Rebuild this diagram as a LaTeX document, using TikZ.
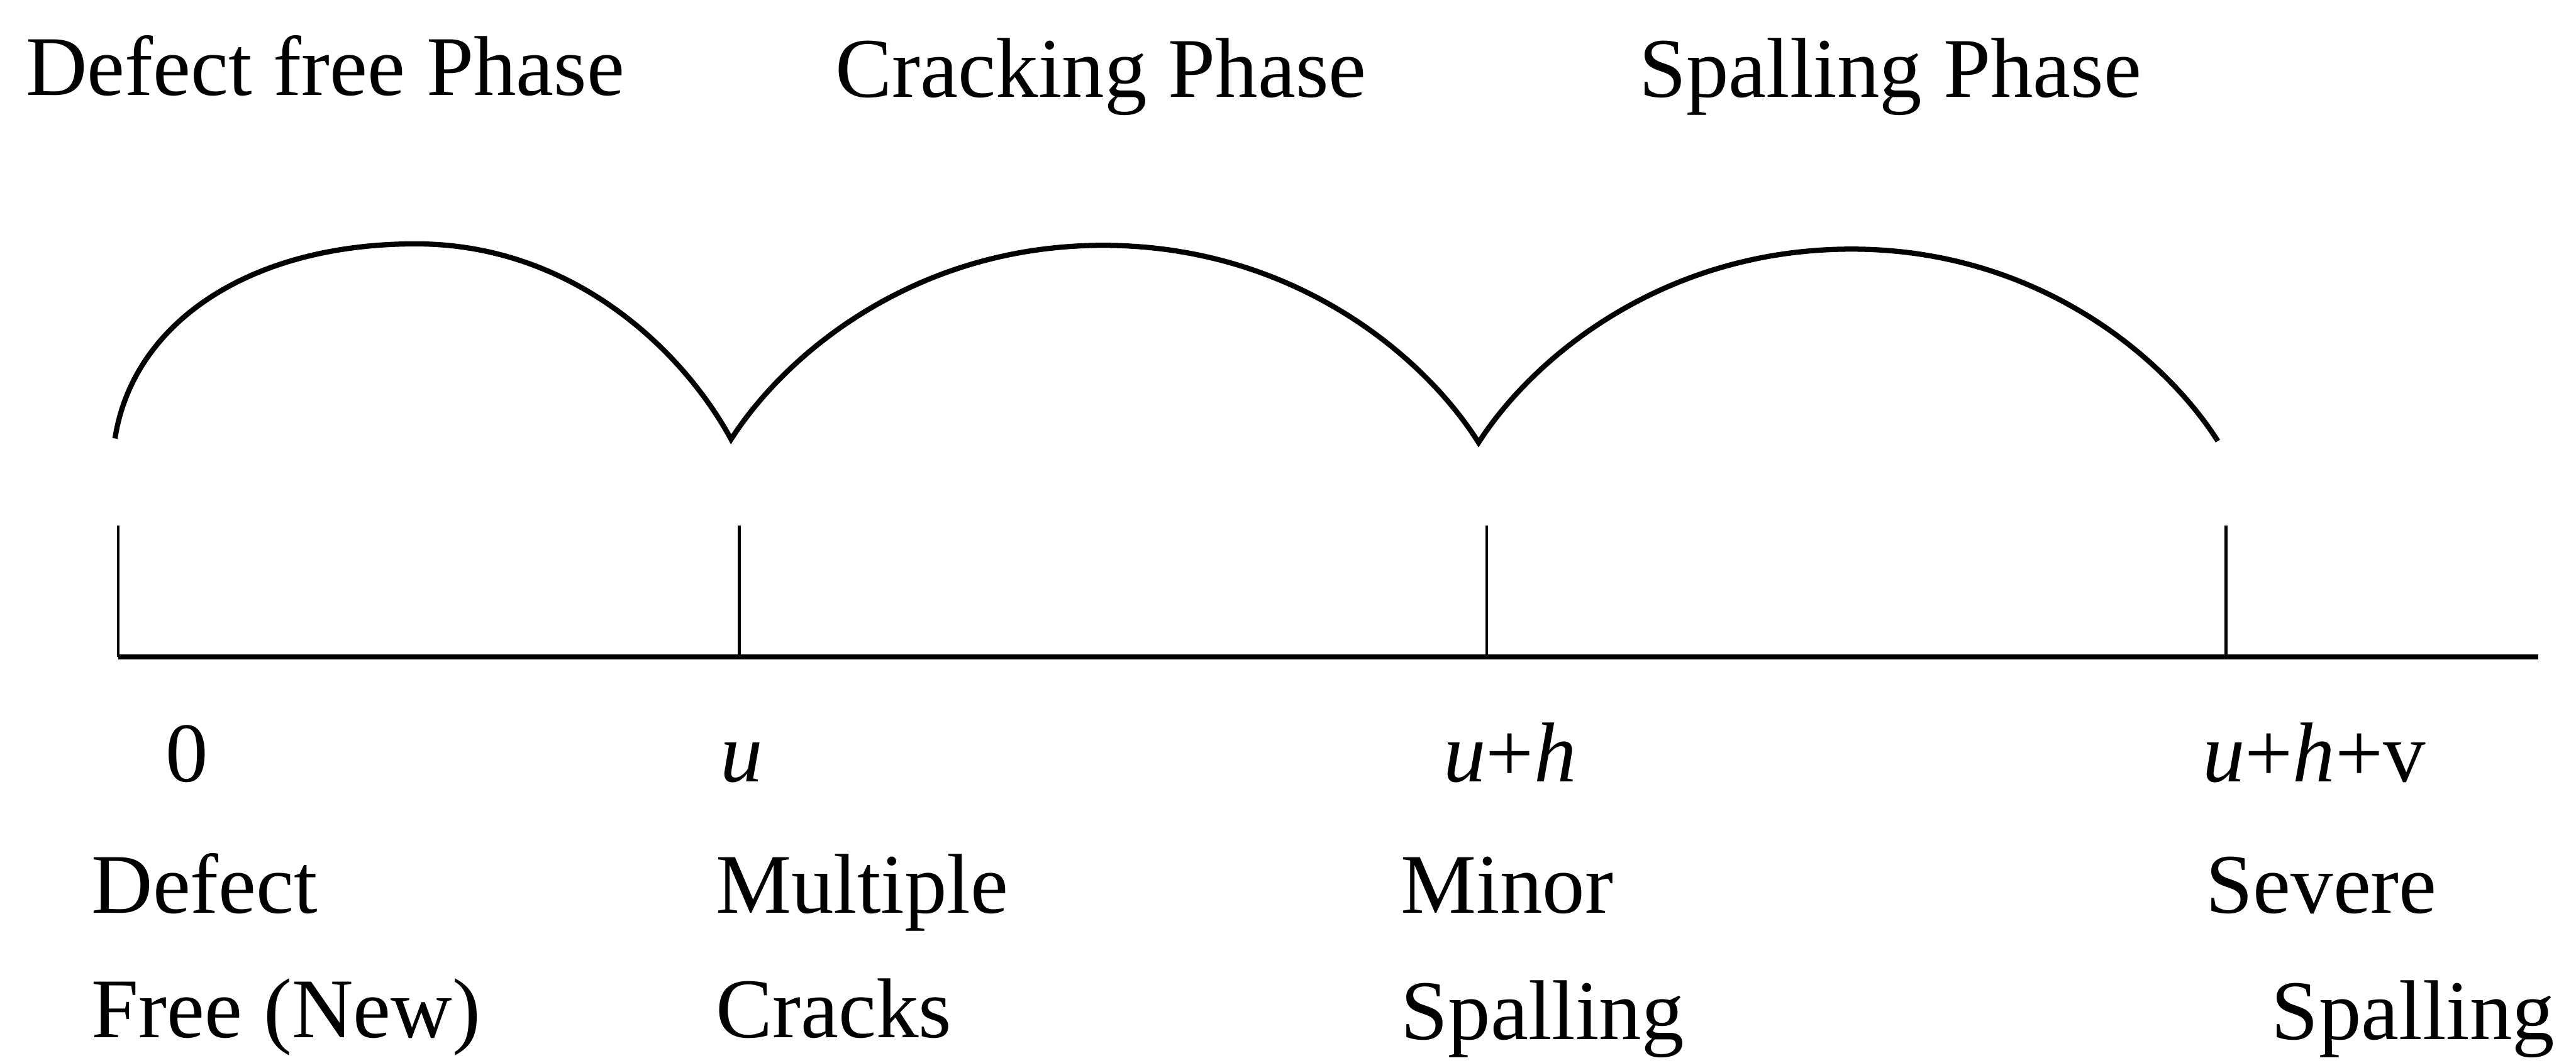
\documentclass[tikz,border=0pt]{standalone}
\usepackage{fontspec}
\setmainfont{Liberation Serif}
\begin{document}
\begin{tikzpicture}[x=0.01cm,y=0.01cm,
        lbl/.style={anchor=base west,inner sep=0pt,font=\fontsize{14.7}{17}\selectfont}]
    \useasboundingbox (0,0) rectangle (1568,647);
    % phase names
    \node[lbl] (pdefect) at (15,589) {Defect free Phase};
    \node[lbl] (pcrack) at (508,588) {Cracking Phase};
    \node[lbl] (pspall) at (997,588) {Spalling Phase};
    % arches
    \draw[line width=0.9pt]
        (70,380) .. controls (81,451) and (152.5,498.5) .. (253,498.5)
        .. controls (349,498.5) and (416,433) .. (445,379.5)
        .. controls (479,432.6) and (558,497.6) .. (671.5,497.6)
        .. controls (786,497.6) and (866,431.5) .. (900,377.5)
        .. controls (934,430.5) and (1013.5,495.3) .. (1127,495.3)
        .. controls (1238.5,495.3) and (1316.5,431) .. (1350,378.4);
    % time axis
    \coordinate (t0) at (72,247);
    \coordinate (t1) at (450,247);
    \coordinate (t2) at (905,247);
    \coordinate (t3) at (1355,247);
    \coordinate (tend) at (1545,247);
    \foreach \t in {t0,t1,t2,t3}
        \draw[line width=0.5pt] (\t) -- ++(0,80);
    \draw[line width=0.9pt] (t0) -- (tend);
    % times
    \node[lbl] (vzero) at (100,171) {0};
    \node[lbl] (vu) at (438,171) {\textit{u}};
    \node[lbl] (vuh) at (878,171) {\textit{u}+\textit{h}};
    \node[lbl] (vuhv) at (1340,171) {\textit{u}+\textit{h}+v};
    % states
    \node[lbl] (sdefect) at (55,91) {Defect};
    \node[lbl] (sfree) at (55,15) {Free (New)};
    \node[lbl] (smultiple) at (435,91) {Multiple};
    \node[lbl] (scracks) at (435,15) {Cracks};
    \node[lbl] (sminor) at (852,91) {Minor};
    \node[lbl] (sminspall) at (852,14) {Spalling};
    \node[lbl] (ssevere) at (1342,91) {Severe};
    \node[lbl] (ssevspall) at (1382,14) {Spalling};
\end{tikzpicture}
\end{document}
